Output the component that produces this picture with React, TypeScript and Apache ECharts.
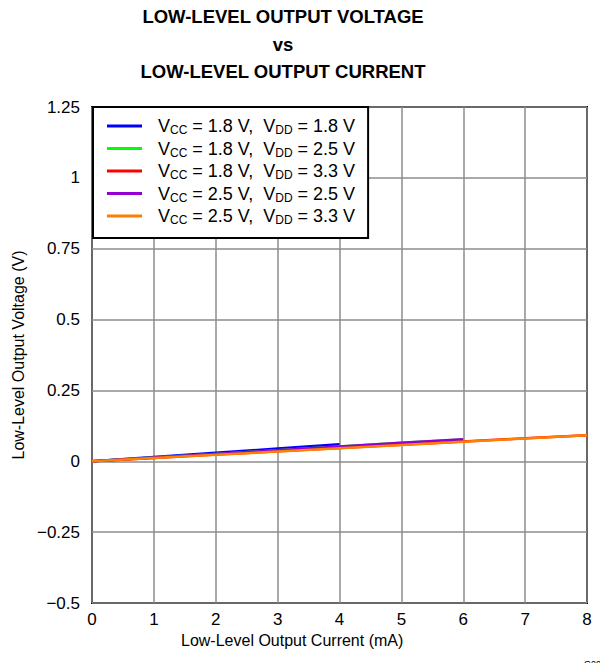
import React, { useEffect, useRef } from "react";
import * as echarts from "echarts";

const FONT = "'Liberation Sans', Arial, Helvetica, sans-serif";

const vccLabels = ["1.8", "1.8", "1.8", "2.5", "2.5"];
const vddLabels = ["1.8", "2.5", "3.3", "2.5", "3.3"];
const seriesColors = ["#0000ff", "#00ff00", "#ff0000", "#9400d3", "#ff7f00"];

// output current (mA), output voltage (V)
const blueData: [number, number][] = [[0, 0], [1, 0.015], [2, 0.03], [3, 0.045], [4, 0.06]];
const greenData: [number, number][] = [[0, 0], [1, 0.013], [2, 0.026], [3, 0.039], [4, 0.052], [5, 0.065], [6, 0.077]];
const redData: [number, number][] = [[0, 0], [1, 0.012], [2, 0.024], [3, 0.035], [4, 0.047], [5, 0.058], [6, 0.07], [7, 0.081], [8, 0.092]];
const purpleData: [number, number][] = [[0, 0], [1, 0.013], [2, 0.026], [3, 0.039], [4, 0.052], [5, 0.065], [6, 0.078]];
const orangeData: [number, number][] = [[0, 0], [1, 0.0115], [2, 0.023], [3, 0.0345], [4, 0.046], [5, 0.0575], [6, 0.069], [7, 0.0805], [8, 0.092]];
const allData = [blueData, greenData, redData, purpleData, orangeData];

const xMin = 0, xMax = 8, xStep = 1;
const yMin = -0.5, yMax = 1.25, yStep = 0.25;

const titleLines = ["LOW-LEVEL OUTPUT VOLTAGE", "vs", "LOW-LEVEL OUTPUT CURRENT"];
const xName = "Low-Level Output Current (mA)";
const yName = "Low-Level Output Voltage (V)";
const figureId = "G002";

export default function App() {
  const ref = useRef<HTMLDivElement>(null);
  useEffect(() => {
    if (!ref.current) return;
    const chart = echarts.init(ref.current, null, { renderer: "svg" });
    const names = vccLabels.map((c, i) => `VCC = ${c} V, VDD = ${vddLabels[i]} V`);
    const richMap: Record<string, string> = {};
    names.forEach((n, i) => {
      richMap[n] = `{v|V}{s|CC}{v| = ${vccLabels[i]} V,  V}{s|DD}{v| = ${vddLabels[i]} V}`;
    });
    chart.setOption({
      animation: false,
      backgroundColor: "#ffffff",
      title: {
        text: titleLines.join("\n"),
        left: 278,
        textAlign: "center",
        top: -2,
        textStyle: { fontFamily: FONT, fontSize: 18.5, fontWeight: "bold", color: "#000", lineHeight: 27.5 },
      },
      grid: {
        left: 92,
        right: 21,
        top: 107,
        bottom: 68,
        show: true,
        borderColor: "#000",
        borderWidth: 2,
        containLabel: false,
      },
      legend: {
        left: 93,
        top: 107,
        orient: "vertical",
        backgroundColor: "#fff",
        borderColor: "#000",
        borderWidth: 2,
        borderRadius: 0,
        padding: [10, 13, 12, 14],
        itemGap: 3.5,
        itemWidth: 35,
        itemHeight: 3,
        icon: "rect",
        data: names,
        formatter: (n: string) => richMap[n],
        textStyle: {
          fontFamily: FONT,
          padding: [0, 0, 0, 11],
          rich: {
            v: { fontFamily: FONT, fontSize: 18, color: "#000", lineHeight: 20 },
            s: { fontFamily: FONT, fontSize: 12, color: "#000", lineHeight: 13, verticalAlign: "bottom" },
          },
        },
      },
      xAxis: {
        type: "value",
        min: xMin,
        max: xMax,
        interval: xStep,
        axisLine: { show: false },
        axisTick: { show: false },
        axisLabel: { fontFamily: FONT, fontSize: 17, color: "#000", margin: 8 },
        splitLine: { show: true, lineStyle: { color: "#8c8c8c", width: 1.5 } },
      },
      yAxis: {
        type: "value",
        min: yMin,
        max: yMax,
        interval: yStep,
        name: yName,
        nameLocation: "middle",
        nameGap: 63,
        nameTextStyle: { fontFamily: FONT, fontSize: 16, color: "#000" },
        axisLine: { show: false },
        axisTick: { show: false },
        axisLabel: {
          fontFamily: FONT,
          fontSize: 17,
          color: "#000",
          margin: 12,
          formatter: (v: number) => String(Math.round(v * 100) / 100).replace("-", "\u2212"),
        },
        splitLine: { show: true, lineStyle: { color: "#8c8c8c", width: 1.5 } },
      },
      graphic: [
        {
          type: "text",
          left: 181,
          top: 632,
          style: { text: xName, fontFamily: FONT, fontSize: 16, fill: "#000" },
        },
        {
          type: "text",
          left: 584,
          top: 659,
          style: { text: figureId, fontFamily: FONT, fontSize: 9, fill: "#000" },
        },
      ],
      series: names.map((n, i) => ({
        name: n,
        type: "line",
        data: allData[i],
        symbol: "none",
        lineStyle: { color: seriesColors[i], width: 2.5 },
        itemStyle: { color: seriesColors[i] },
        z: 3 + i,
      })),
    });
    return () => chart.dispose();
  }, []);
  return <div ref={ref} style={{ width: 608, height: 671, margin: -8 }} />;
}
